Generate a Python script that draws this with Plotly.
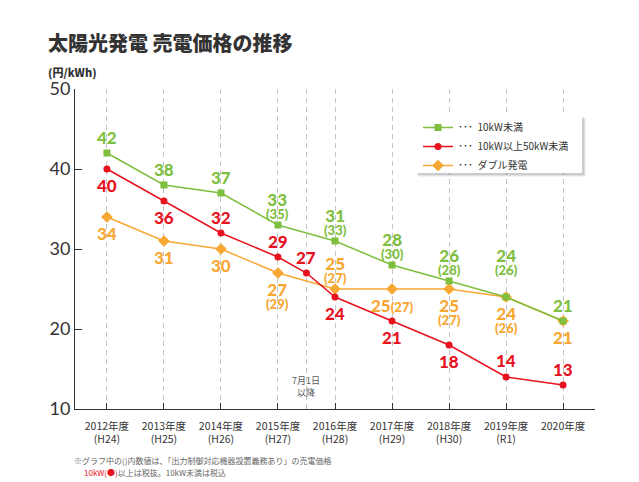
import plotly.graph_objects as go

# ---------------- data ----------------
categories = ["2012年度<br>(H24)", "2013年度<br>(H25)", "2014年度<br>(H26)", "2015年度<br>(H27)",
              "2016年度<br>(H28)", "2017年度<br>(H29)", "2018年度<br>(H30)", "2019年度<br>(R1)", "2020年度"]
cat_x = [0, 1, 2, 3, 4, 5, 6, 7, 8]

green_name = "10kW未満"
green_vals = [42, 38, 37, 33, 31, 28, 26, 24, 21]
green_sub = [None, None, None, 35, 33, 30, 28, 26, None]

red_name = "10kW以上50kW未満"
red_x = [0, 1, 2, 3, 3.5, 4, 5, 6, 7, 8]      # 3.5 = 2015年度 7月1日以降
red_vals = [40, 36, 32, 29, 27, 24, 21, 18, 14, 13]

orange_name = "ダブル発電"
orange_vals = [34, 31, 30, 27, 25, 25, 25, 24, 21]
orange_sub = [None, None, None, 29, 27, 27, 27, 26, None]

# ---------------- styles ----------------
GREEN = "#7fbf3f"
RED = "#e8121e"
ORANGE = "#f7a733"
FONT = "Lato, 'Noto Sans CJK JP', sans-serif"
JFONT = "'Noto Sans CJK JP', Lato, sans-serif"

# label offsets (pixels, + = up) of the main number
green_main_shift = [16, 16, 16, 26, 26, 26, 26, 42, 16]
red_shift = [-16, -16, 16, 16, 16, -16, -16, -16, 17, 16]
orange_main_shift = [-16, -16, -16, -16, 26, -16, -16, -16, -16]
orange_inline = [False, False, False, False, False, True, False, False, False]

# plot area in pixels
L, R, T, B = 75, 595, 89, 409
W, H = R - L, B - T


def px(x):
    return (x - L) / W


def py(y):
    return (B - y) / H


fig = go.Figure()

fig.add_trace(go.Scatter(x=cat_x, y=orange_vals, mode="lines+markers", name="･･･  " + orange_name,
                         line=dict(color=ORANGE, width=1.5),
                         marker=dict(symbol="diamond", size=9, color=ORANGE), legendrank=3))
fig.add_trace(go.Scatter(x=red_x, y=red_vals, mode="lines+markers", name="･･･  " + red_name,
                         line=dict(color=RED, width=1.5),
                         marker=dict(symbol="circle", size=7, color=RED), legendrank=2))
fig.add_trace(go.Scatter(x=cat_x, y=green_vals, mode="lines+markers", name="･･･  " + green_name,
                         line=dict(color=GREEN, width=1.5),
                         marker=dict(symbol="square", size=7, color=GREEN), legendrank=1))

ann = []
MAIN = 17
SUB = 13
WEIGHT = 900


def lab(x, y, text, color, shift, size):
    ann.append(dict(x=x, y=y, xref="x", yref="y", text=text, showarrow=False, yshift=shift,
                    font=dict(family=FONT, size=size, color=color, weight=WEIGHT)))


def lab2(x, y, main, sub, color, shift):
    text = "<span style='font-size:%dpx'>%d</span><br><span style='font-size:%dpx'>(%d)</span>" % (MAIN, main, SUB, sub)
    ann.append(dict(x=x, y=y, xref="x", yref="y", text=text, showarrow=False, yshift=shift - 6,
                    font=dict(family=FONT, size=10, color=color, weight=WEIGHT)))


for i, v in enumerate(green_vals):
    if green_sub[i] is not None:
        lab2(cat_x[i], v, v, green_sub[i], GREEN, green_main_shift[i])
    else:
        lab(cat_x[i], v, str(v), GREEN, green_main_shift[i], MAIN)

for i, v in enumerate(red_vals):
    lab(red_x[i], v, str(v), RED, red_shift[i], MAIN)

for i, v in enumerate(orange_vals):
    if orange_inline[i]:
        lab(cat_x[i], v, "%d<span style='font-size:%dpx'>(%d)</span>" % (v, SUB, orange_sub[i]),
            ORANGE, orange_main_shift[i], MAIN)
    elif orange_sub[i] is not None:
        lab2(cat_x[i], v, v, orange_sub[i], ORANGE, orange_main_shift[i])
    else:
        lab(cat_x[i], v, str(v), ORANGE, orange_main_shift[i], MAIN)

# title & texts
ann.append(dict(x=px(46), y=py(43), xref="paper", yref="paper", xanchor="left", yanchor="middle",
                text="太陽光発電 売電価格の推移", showarrow=False,
                font=dict(family=JFONT, size=20, color="#333333", weight=900)))
ann.append(dict(x=px(46), y=py(72), xref="paper", yref="paper", xanchor="left", yanchor="middle",
                text="(円/kWh)", showarrow=False,
                font=dict(family=JFONT, size=11, color="#333333", weight=900)))
ann.append(dict(x=3.5, y=py(386), xref="x", yref="paper", xanchor="center", yanchor="middle",
                text="7月1日<br>以降", showarrow=False,
                font=dict(family=JFONT, size=9, color="#555555")))
ann.append(dict(x=px(72), y=py(460), xref="paper", yref="paper", xanchor="left", yanchor="middle",
                text="※グラフ中の()内数値は、「出力制御対応機器設置義務あり」の売電価格", showarrow=False,
                font=dict(family=JFONT, size=8, color="#666666")))
ann.append(dict(x=px(82), y=py(472), xref="paper", yref="paper", xanchor="left", yanchor="middle",
                text="<span style='color:%s'>10kW(●)</span>以上は税抜。10kW未満は税込" % RED, showarrow=False,
                font=dict(family=JFONT, size=8, color="#666666")))

shapes = []
# 7/1 dashed line
shapes.append(dict(type="line", xref="x", yref="paper", x0=3.5, x1=3.5, y0=0, y1=1,
                   line=dict(color="#c4c4c4", width=1, dash="5px,4px"), layer="below"))
# legend box with soft shadow
bx0, by0, bx1, by1 = 416, 115, 582, 173
for off, op in [(4, 0.05), (3, 0.07), (2, 0.09)]:
    shapes.append(dict(type="rect", xref="paper", yref="paper",
                       x0=px(bx0 + off - 1), x1=px(bx1 + off), y0=py(by0 + off), y1=py(by1 + off),
                       fillcolor="rgba(0,0,0,%s)" % op, line=dict(width=0), layer="above"))
shapes.append(dict(type="rect", xref="paper", yref="paper", x0=px(bx0), x1=px(bx1), y0=py(by0), y1=py(by1),
                   fillcolor="white", line=dict(width=0), layer="above"))

fig.update_layout(
    width=639, height=482,
    margin=dict(l=L, r=639 - R, t=T, b=482 - B),
    paper_bgcolor="white", plot_bgcolor="white",
    font=dict(family=FONT, color="#333333"),
    annotations=ann, shapes=shapes,
    showlegend=True,
    legend=dict(x=px(418), y=py(113), xanchor="left", yanchor="top", bgcolor="rgba(0,0,0,0)",
                font=dict(family=JFONT, size=10, color="#333333"), tracegroupgap=0, itemwidth=30),
)

fig.update_xaxes(range=[-0.56, 8.56], tickmode="array", tickvals=cat_x, ticktext=categories,
                 ticks="inside", ticklen=6, tickcolor="#333333", ticklabelstandoff=7,
                 showgrid=True, gridcolor="#c4c4c4", gridwidth=1, griddash="5px,4px",
                 showline=True, linecolor="#333333", linewidth=1, zeroline=False,
                 tickfont=dict(family=JFONT, size=10.5, color="#333333"))
fig.update_yaxes(range=[10, 50], tickmode="array", tickvals=[10, 20, 30, 40, 50],
                 ticks="inside", ticklen=7, tickcolor="#333333",
                 showgrid=False, showline=True, linecolor="#333333", linewidth=1, zeroline=False,
                 tickfont=dict(family=FONT, size=18, color="#333333"))

fig.write_html("out.html", config={"displayModeBar": False},
               post_script="document.body.style.margin='0';document.body.style.padding='0';")
